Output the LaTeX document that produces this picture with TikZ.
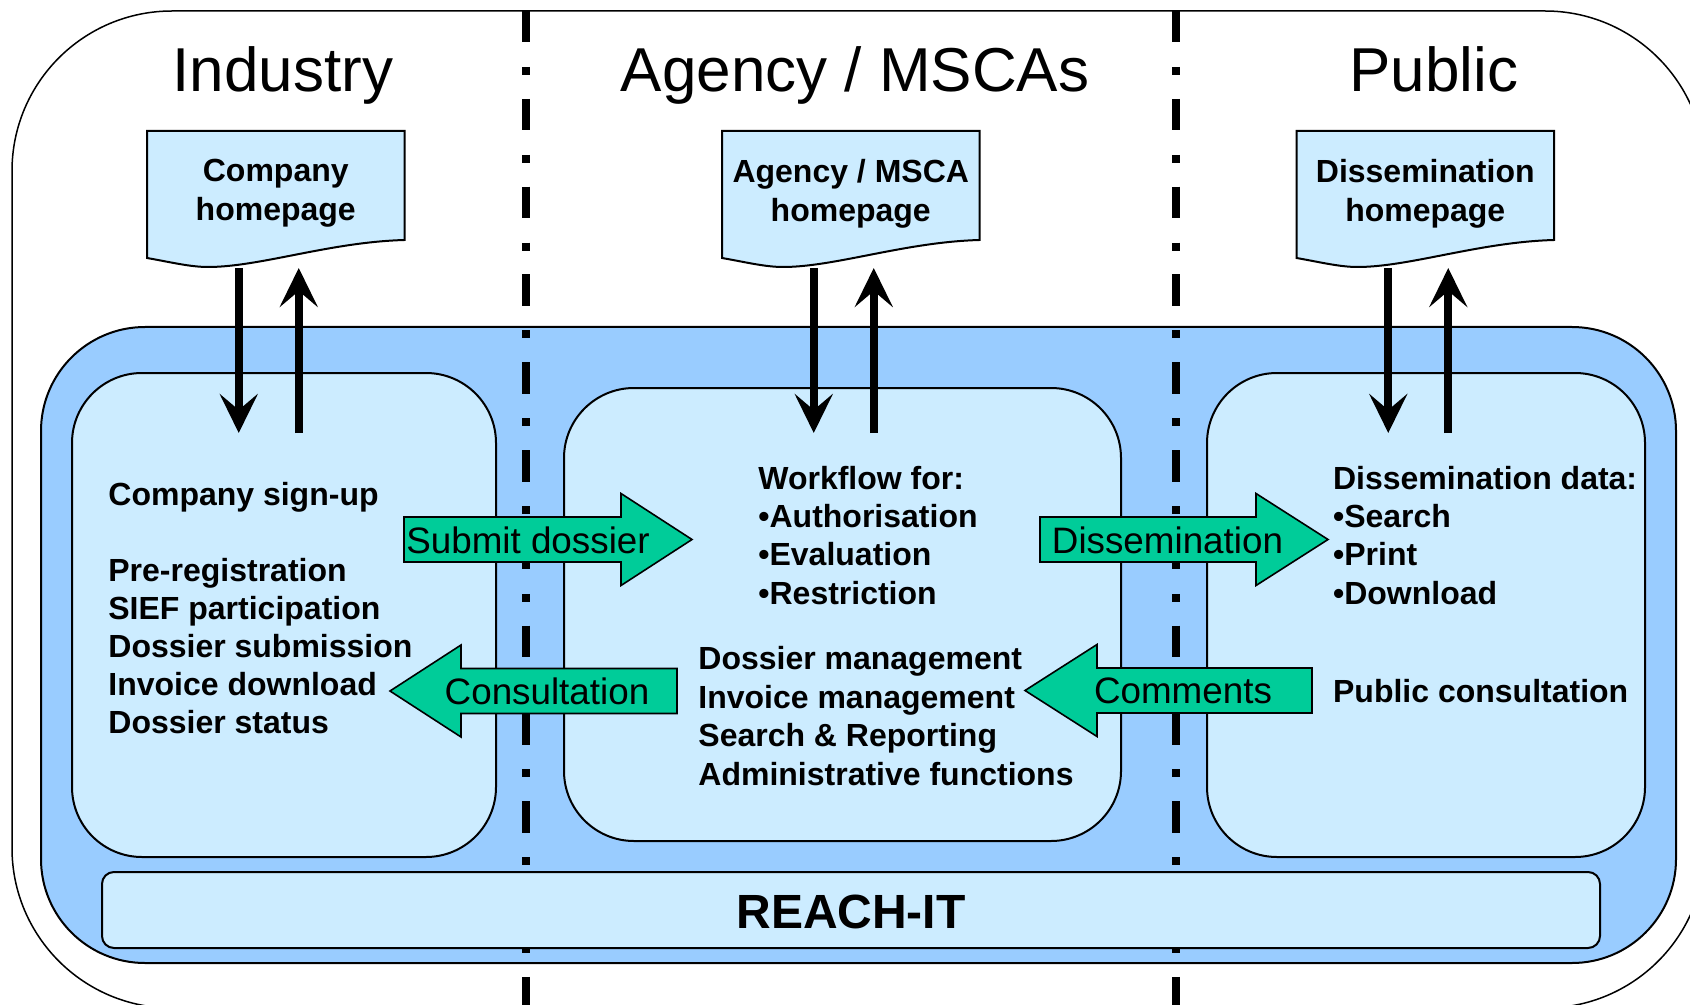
\documentclass[tikz,border=0pt]{standalone}
\usepackage{fontspec}
\setmainfont{Liberation Sans}
\usepackage{tikz}
\usetikzlibrary{
  positioning,
  arrows.meta,
  fit,
  calc
}
\definecolor{reachblue}{HTML}{99CCFF}
\definecolor{paleblue}{HTML}{CCECFF}
\definecolor{flowgreen}{HTML}{00CC99}

\tikzstyle{outerframe}=[draw=black, line width=0.75pt, rounded corners=80pt]
\tikzstyle{reacharea}=[draw=black, fill=reachblue, line width=1pt, rounded corners=52pt]
\tikzstyle{divider}=[line width=4pt, dash pattern=on 15.75pt off 12.25pt on 4pt off 11.9pt]
\tikzstyle{panel}=[draw=black, fill=paleblue, line width=1pt, rounded corners=35pt, inner sep=0pt]
\tikzstyle{homepage}=[draw=black, fill=paleblue, line width=1pt]
\tikzstyle{pagetext}=[anchor=north, align=center, inner sep=0pt, font=\fontsize{16}{19.5}\selectfont\bfseries]
\tikzstyle{pagearrow}=[-{Stealth[length=19.5pt,width=19pt,inset=8pt]}, line width=3.8pt]
\tikzstyle{flowbox}=[draw=black, fill=flowgreen, line width=0.8pt]
\tikzstyle{flowlabel}=[anchor=base, inner sep=0pt, font=\fontsize{18.4}{22}\selectfont]
\tikzstyle{coltitle}=[anchor=base, inner sep=0pt, font=\fontsize{31}{37}\selectfont]
\tikzstyle{listitem}=[anchor=base west, inner sep=0pt, font=\fontsize{16}{19}\selectfont\bfseries]

\begin{document}
\begin{tikzpicture}[x=0.5pt, y=-0.5pt]
    \useasboundingbox (0,0) rectangle (1690,1005);
    \def\blockarrow#1#2#3#4{\draw[flowbox] (#1,#4-22.5) -- (#2,#4-22.5) -- (#2,#4-46)
      -- (#3,#4) -- (#2,#4+46) -- (#2,#4+22.5) -- (#1,#4+22.5) -- cycle}

    % frames
    \draw[outerframe] (12,11) rectangle (1705,1008);
    \draw[reacharea] (41,327) rectangle (1676,963);
    \draw[divider] (526,11) -- (526,1010);
    \draw[divider] (1176,11) -- (1176,1010);

    % column titles
    \node[coltitle] (indtitle) at (283,91.7) {Industry};
    \node[coltitle] (agytitle) at (855,91.7) {Agency / MSCAs};
    \node[coltitle] (pubtitle) at (1434,91.7) {Public};

    % panels
    \node[panel, fit={(72,373) (496,857)}] (indpanel) {};
    \node[panel, fit={(564,388) (1121,841)}] (agypanel) {};
    \node[panel, fit={(1207,373) (1645,857)}] (pubpanel) {};
    \node[panel, rounded corners=6pt, fit={(102,872) (1600,948)}] (reachit) {};
    \node[coltitle, font=\fontsize{24}{28}\selectfont\bfseries] (reachtext) at (851,928) {REACH-IT};

    % homepages with their arrows
    \foreach \px/\pname/\ptext in {147/comphome/{Company\\homepage},
        722/agyhome/{Agency / MSCA\\homepage},
        1296.5/disshome/{Dissemination\\homepage}}{
      \draw[homepage] (\px,131) -- (\px+257.5,131) -- (\px+257.5,240)
        .. controls (\px+183,242) and (\px+113,267) .. (\px+61,267)
        .. controls (\px+43,267) and (\px+23,262) .. (\px,258) -- cycle;
      \node[pagetext] (\pname) at (\px+128.75,159) {\ptext};
      \coordinate (\pname-foot) at (\px+128.75,268);
      \draw[pagearrow] ([shift={(-37,0)}]\pname-foot) -- ++(0,165);
      \draw[pagearrow] ([shift={(23,165)}]\pname-foot) -- ++(0,-165);
    }

    % industry
    \node[listitem] (indsignup) at (108,505) {Company sign-up};
    \foreach \txt [count=\i] in {Pre-registration, SIEF participation,
        Dossier submission, Invoice download, Dossier status}
      \node[listitem] (ind\i) at (108,{581.7+37.9*(\i-1)}) {\txt};

    % agency
    \foreach \txt [count=\i] in {Workflow for:, •Authorisation, •Evaluation, •Restriction}
      \node[listitem] (flow\i) at (758,{489.5+38.2*(\i-1)}) {\txt};
    \foreach \txt [count=\i] in {Dossier management, Invoice management,
        Search \& Reporting, Administrative functions}
      \node[listitem] (mgmt\i) at (698,{669.5+38.5*(\i-1)}) {\txt};

    % public
    \foreach \txt [count=\i] in {Dissemination data:, •Search, •Print, •Download}
      \node[listitem] (diss\i) at (1332.7,{489.5+38.2*(\i-1)}) {\txt};
    \node[listitem] (pubcons) at (1332.7,702) {Public consultation};

    % block arrows
    \blockarrow{404}{621}{692}{539.5};
    \node[flowlabel] (submit) at (528,553) {Submit dossier};
    \blockarrow{677}{461}{390}{691};
    \node[flowlabel] (consult) at (547,704.5) {Consultation};
    \blockarrow{1040}{1256}{1328}{539.5};
    \node[flowlabel] (dissem) at (1167.5,553) {Dissemination};
    \blockarrow{1312}{1097}{1025}{690.5};
    \node[flowlabel] (comments) at (1183,703.5) {Comments};
\end{tikzpicture}
\end{document}
